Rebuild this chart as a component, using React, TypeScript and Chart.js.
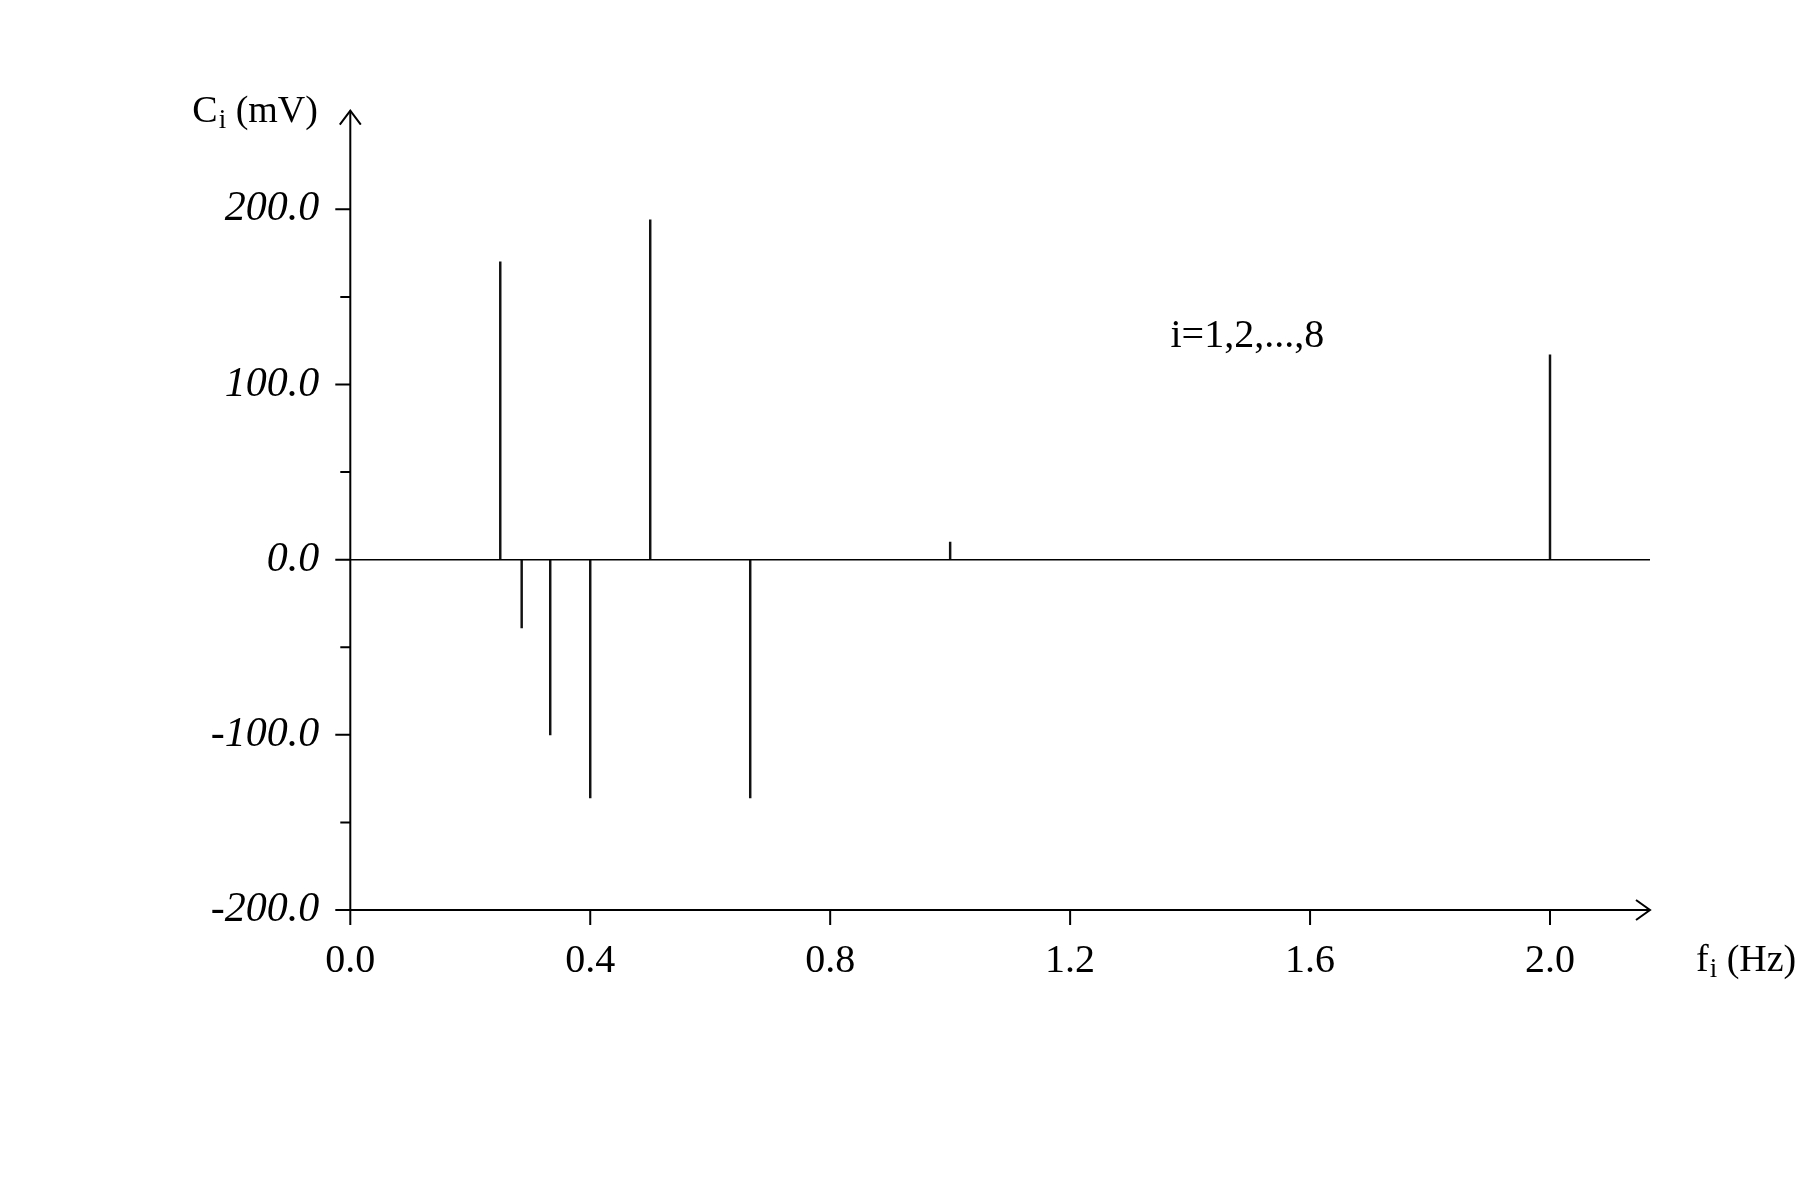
import React, { useEffect, useRef } from "react";
import { Chart, registerables } from "chart.js";

Chart.register(...registerables);

// Data
const frequencies = [0.25, 0.2857, 0.3333, 0.4, 0.5, 0.6667, 1.0, 2.0];
const amplitudes = [170, -39, -100, -136, 194, -136, 10, 117];
const yTickValues = [-200, -100, 0, 100, 200];
const yMinorTickValues = [-150, -50, 50, 150];
const xTickValues = [0, 0.4, 0.8, 1.2, 1.6, 2.0];
const annotationText = "i=1,2,...,8";

const FONT = '"Liberation Serif", "Times New Roman", serif';

const axesPlugin = {
  id: "customAxes",
  afterDatasetsDraw(chart: any) {
    const ctx = chart.ctx;
    const xs = chart.scales.x;
    const ys = chart.scales.y;
    const x0 = xs.getPixelForValue(0);
    const xEnd = xs.right;
    const yTop = ys.top;
    const yBottom = ys.getPixelForValue(-200);
    const yZero = ys.getPixelForValue(0);
    ctx.save();
    ctx.strokeStyle = "#000";
    ctx.lineCap = "butt";
    // zero line
    ctx.lineWidth = 1.5;
    ctx.beginPath();
    ctx.moveTo(x0, yZero);
    ctx.lineTo(xEnd, yZero);
    ctx.stroke();
    // axes
    ctx.lineWidth = 2;
    ctx.beginPath();
    ctx.moveTo(x0, yBottom);
    ctx.lineTo(x0, yTop);
    ctx.moveTo(x0, yBottom);
    ctx.lineTo(xEnd, yBottom);
    ctx.stroke();
    // ticks
    ctx.beginPath();
    yTickValues.forEach((v) => {
      const p = ys.getPixelForValue(v);
      ctx.moveTo(x0 - 15, p);
      ctx.lineTo(x0, p);
    });
    yMinorTickValues.forEach((v) => {
      const p = ys.getPixelForValue(v);
      ctx.moveTo(x0 - 10, p);
      ctx.lineTo(x0, p);
    });
    xTickValues.forEach((v) => {
      const p = xs.getPixelForValue(v);
      ctx.moveTo(p, yBottom);
      ctx.lineTo(p, yBottom + 15);
    });
    ctx.stroke();
    // arrowheads
    ctx.beginPath();
    ctx.moveTo(x0 - 10.5, yTop + 14);
    ctx.lineTo(x0, yTop);
    ctx.lineTo(x0 + 10.5, yTop + 14);
    ctx.moveTo(xEnd - 14, yBottom - 10);
    ctx.lineTo(xEnd, yBottom);
    ctx.lineTo(xEnd - 14, yBottom + 10);
    ctx.stroke();

    // titles
    ctx.fillStyle = "#000";
    ctx.textBaseline = "alphabetic";
    ctx.textAlign = "left";
    const drawSub = (main: string, sub: string, rest: string, x: number, y: number) => {
      ctx.font = `38px ${FONT}`;
      ctx.fillText(main, x, y);
      let cx = x + ctx.measureText(main).width;
      ctx.font = `27px ${FONT}`;
      ctx.fillText(sub, cx + 1, y + 6);
      cx += ctx.measureText(sub).width + 1;
      ctx.font = `38px ${FONT}`;
      ctx.fillText(rest, cx, y);
    };
    drawSub("C", "i", " (mV)", x0 - 158, yTop + 11);
    drawSub("f", "i", " (Hz)", xEnd + 46, yBottom + 61);

    ctx.font = `40px ${FONT}`;
    ctx.fillText(annotationText, 1170.5, 346.5);
    ctx.restore();
  },
};

export default function App() {
  const ref = useRef<HTMLCanvasElement | null>(null);
  useEffect(() => {
    if (!ref.current) return;
    const chart = new Chart(ref.current, {
      type: "bar",
      data: {
        datasets: [
          {
            data: frequencies.map((f, i) => ({ x: f, y: [0, amplitudes[i]] })) as any,
            backgroundColor: "#111",
            borderWidth: 0,
            barThickness: 1.8,
          },
        ],
      },
      plugins: [axesPlugin],
      options: {
        responsive: false,
        animation: false,
        devicePixelRatio: 1,
        layout: { padding: { left: 200.3, right: 150, top: 110.7, bottom: 190 } },
        plugins: { legend: { display: false }, tooltip: { enabled: false } },
        scales: {
          x: {
            type: "linear",
            min: 0,
            max: 2.1667,
            offset: false,
            grid: { display: false, offset: false },
            border: { display: false },
            afterBuildTicks: (s: any) => {
              s.ticks = xTickValues.map((v) => ({ value: v }));
            },
            afterFit: (s: any) => {
              s.height = 100;
            },
            ticks: {
              color: "#000",
              font: { family: FONT, size: 40 },
              padding: 19,
              maxRotation: 0,
              autoSkip: false,
              callback: (v: any) => Number(v).toFixed(1),
            },
          },
          y: {
            type: "linear",
            min: -200,
            max: 256.3,
            grid: { display: false },
            border: { display: false },
            afterBuildTicks: (s: any) => {
              s.ticks = yTickValues.map((v) => ({ value: v }));
            },
            afterFit: (s: any) => {
              s.width = 150;
            },
            ticks: {
              color: "#000",
              font: { family: FONT, size: 42, style: "italic" },
              padding: 23,
              autoSkip: false,
              callback: (v: any) => Number(v).toFixed(1),
            },
          },
        },
      },
    });
    return () => chart.destroy();
  }, []);
  return (
    <div style={{ position: "absolute", left: 0, top: 0, width: 1800, height: 1200, background: "#fff" }}>
      <canvas ref={ref} width={1800} height={1200} style={{ display: "block" }} />
    </div>
  );
}
